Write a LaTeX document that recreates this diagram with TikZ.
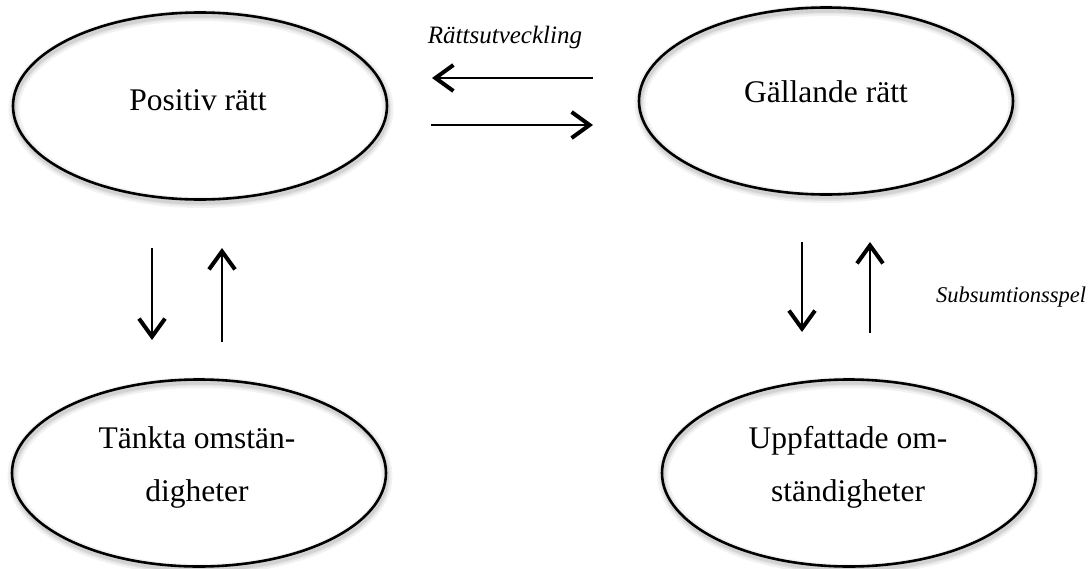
\documentclass[tikz,border=0pt]{standalone}
\usepackage{fontspec}
\setmainfont{Liberation Serif}
\usetikzlibrary{arrows.meta,shapes.geometric}

\begin{document}
\begin{tikzpicture}[x=1pt,y=-1pt,
  % ellipse with a soft shadow under its outline
  bubble/.style={ellipse, draw=black, line width=2.6pt,
    minimum width=374pt, minimum height=187pt, inner sep=0pt,
    preaction={draw=black, draw opacity=0.05, line width=11pt,
      transform canvas={xshift=1pt,yshift=-3pt}},
    preaction={draw=black, draw opacity=0.06, line width=7pt,
      transform canvas={xshift=1pt,yshift=-3pt}},
    preaction={draw=black, draw opacity=0.08, line width=4pt,
      transform canvas={xshift=1pt,yshift=-3pt}}},
  caption/.style={font=\fontsize{31.5}{53}\selectfont, align=center,
    anchor=base, inner sep=0pt},
  note/.style={font=\itshape, anchor=base, inner sep=0pt},
  flow/.style={line width=2.8pt,
    -{Straight Barb[length=18pt,width=26pt,line width=4pt]}}
]
\useasboundingbox (0,0) rectangle (1090,568);

% the four concepts
\node[bubble] (pos) at (200,106) {};
\node[bubble] (gal) at (826,101) {};
\node[bubble] (tan) at (199,473) {};
\node[bubble] (upp) at (849,473) {};

% base anchor of a two-line caption sits on its last line
\node[caption] (posT) at (198,110) {Positiv rätt};
\node[caption] (galT) at (826,102) {Gällande rätt};
\node[caption] (tanT) at (197,501) {Tänkta omstän-\\digheter};
\node[caption] (uppT) at (848,501) {Uppfattade om-\\ständigheter};

% process labels
\node[note, font=\fontsize{25}{30}\selectfont\itshape] (dev) at (505,43) {Rättsutveckling};
\node[note, font=\fontsize{22.5}{26}\selectfont\itshape] (sub) at (1011,302) {Subsumtionsspel};

% arrow end points
\coordinate (h1s) at (593,78);  \coordinate (h1e) at (432,78);
\coordinate (h2s) at (431,125); \coordinate (h2e) at (593,125);
\coordinate (l1s) at (152,248); \coordinate (l1e) at (152,340);
\coordinate (l2s) at (222,342); \coordinate (l2e) at (222,248);
\coordinate (r1s) at (802,242); \coordinate (r1e) at (802,332);
\coordinate (r2s) at (870,333); \coordinate (r2e) at (870,242);

\draw[flow] (h1s) -- (h1e);
\draw[flow] (h2s) -- (h2e);
\draw[flow] (l1s) -- (l1e);
\draw[flow] (l2s) -- (l2e);
\draw[flow] (r1s) -- (r1e);
\draw[flow] (r2s) -- (r2e);
\end{tikzpicture}
\end{document}
